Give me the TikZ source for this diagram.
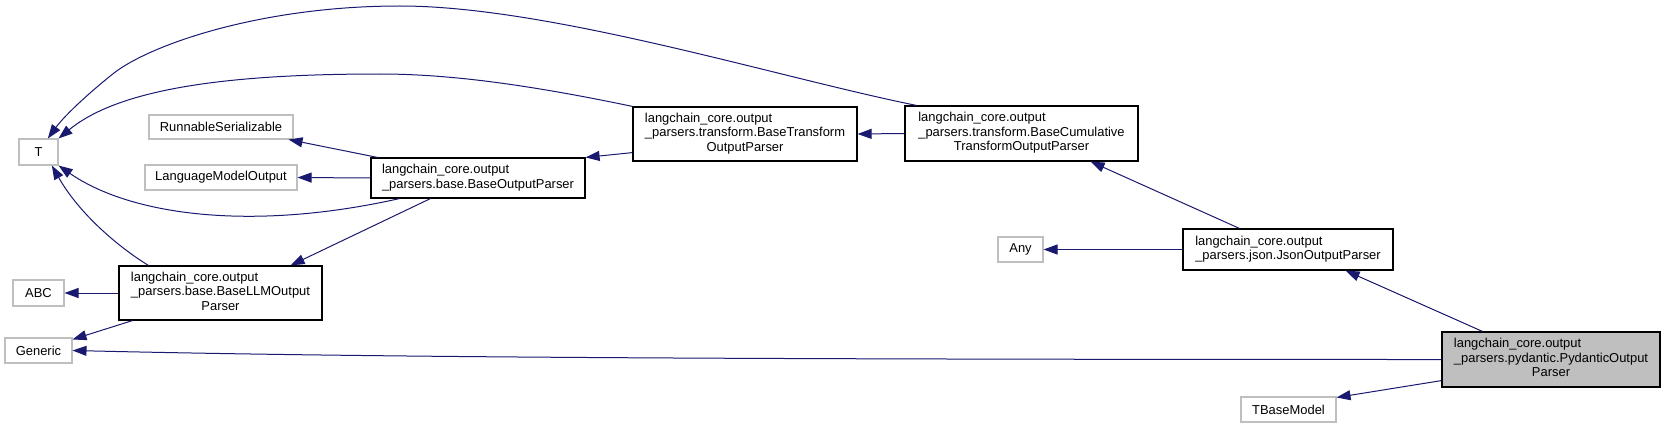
\documentclass[tikz,border=0pt]{standalone}
\usepackage{fontspec}
\setmainfont{Liberation Sans}
\usetikzlibrary{arrows.meta}
\definecolor{edgeblue}{RGB}{25,25,112}
\definecolor{extgray}{RGB}{191,191,191}
\definecolor{curfill}{RGB}{191,191,191}
\tikzset{
  boxbase/.style={inner sep=0pt, font=\fontsize{9.7}{10.9}\selectfont},
  sz/.style 2 args={minimum width=#1*0.75pt, minimum height=#2*0.75pt},
  cls/.style={boxbase, draw=black, line width=0.9pt, fill=white},
  curcls/.style={boxbase, draw=black, line width=0.9pt, fill=curfill},
  ext/.style={boxbase, draw=extgray, line width=0.8pt, fill=white},
  inh/.style={draw=edgeblue, line width=0.75pt, -{Triangle[length=10.5pt,width=7.5pt]}},
}
\newcommand{\twol}[2]{\begin{tabular}{@{}l@{}}#1\\#2\end{tabular}}
\newcommand{\threel}[3]{\begin{tabular}{@{}l@{}}#1\\#2\\\multicolumn{1}{@{}c@{}}{#3}\end{tabular}}
\begin{document}
\begin{tikzpicture}[x=0.75pt,y=-0.75pt]
\useasboundingbox (0,0) rectangle (1665,428);
% nodes
\node[ext, sz={39}{26}] (t) at (38.5,152) {T};
\node[ext, sz={144}{24}] (rs) at (221,127) {RunnableSerializable};
\node[ext, sz={152}{25}] (lmo) at (221,177.5) {LanguageModelOutput};
\node[cls, sz={214}{40}] (bop) at (478,178) {\twol{langchain\_core.output}{\_parsers.base.BaseOutputParser}};
\node[cls, sz={224}{54}] (bt) at (745,134) {\threel{langchain\_core.output}{\_parsers.transform.BaseTransform}{OutputParser}};
\node[cls, sz={233}{55}] (bct) at (1021.5,133.5) {\threel{langchain\_core.output}{\_parsers.transform.BaseCumulative}{TransformOutputParser}};
\node[ext, sz={51}{26}] (abc) at (38.5,293) {ABC};
\node[cls, sz={203}{54}] (bllm) at (220.5,293) {\threel{langchain\_core.output}{\_parsers.base.BaseLLMOutput}{Parser}};
\node[ext, sz={67}{25}] (gen) at (38.5,350.5) {Generic};
\node[ext, sz={45}{25}] (any) at (1020.5,249.5) {Any};
\node[cls, sz={210}{41}] (json) at (1288,249.5) {\twol{langchain\_core.output}{\_parsers.json.JsonOutputParser}};
\node[curcls, sz={218}{55}] (pyd) at (1551,359.5) {\threel{langchain\_core.output}{\_parsers.pydantic.PydanticOutput}{Parser}};
\node[ext, sz={95}{25}] (tbm) at (1288.5,409.5) {TBaseModel};
% connectors
\draw[inh] ([xshift=9pt]bct.north west) .. controls (780,78) and (550,6) .. (400,6)
   .. controls (260,6) and (150,45) .. (114,73)
   .. controls (90,92) and (65,115) .. ([xshift=7pt]t.north);
\draw[inh] (bt.north west) .. controls (530,85) and (450,74) .. (380,74)
   .. controls (230,74) and (120,88) .. (t.north east);
\draw[inh] ([xshift=21.75pt]bop.south west) .. controls (250,232) and (130,215) .. (t.south east);
\draw[inh] ([xshift=22.5pt]bllm.north west) .. controls (120,248) and (80,215) .. ([xshift=10pt]t.south);
\draw[inh] ([xshift=5.25pt]bop.north west) -- ([xshift=-3.75pt]rs.south east);
\draw[inh] (bop.west) -- (lmo.east);
\draw[inh] ([xshift=45pt]bop.south west) -- ([xshift=-24pt]bllm.north east);
\draw[inh] (bllm.west) -- (abc.east);
\draw[inh] ([xshift=10.5pt]bllm.south west) -- ([yshift=-1.5pt]gen.north east);
\draw[inh] ([yshift=6.75pt]bt.south west) -- (bop.north east);
\draw[inh] (bct.west) -- (bt.east);
\draw[inh] ([xshift=42.75pt]json.north west) -- ([xshift=-36pt]bct.south east);
\draw[inh] (json.west) -- (any.east);
\draw[inh] ([xshift=30.75pt]pyd.north west) -- ([xshift=-36pt]json.south east);
\draw[inh] (pyd.west) .. controls (700,359.5) and (350,357) .. (gen.east);
\draw[inh] ([yshift=5.25pt]pyd.south west) -- ([yshift=-0.75pt]tbm.north east);
\end{tikzpicture}
\end{document}
